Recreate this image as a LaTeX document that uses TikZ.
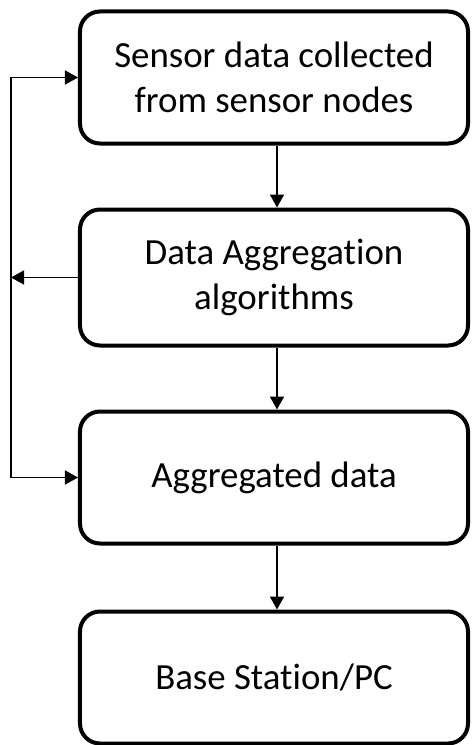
\documentclass[tikz,border=0pt]{standalone}
\usepackage{fontspec}
\setmainfont{Carlito}[Ligatures=NoCommon]
\usetikzlibrary{arrows.meta}
\usetikzlibrary{math}
\usetikzlibrary{positioning}

\tikzset{
  stage/.style={rectangle,draw=black,line width=4bp,rounded corners=20bp,
    minimum width=388bp,minimum height=132bp,align=center,
    font=\fontsize{37}{45}\selectfont},
  flow/.style={-{Triangle[length=13bp,width=14bp]},line width=2bp},
  loopback/.style={-{Triangle[length=13bp,width=14bp]},line width=1.6bp}
}

\begin{document}
\begin{tikzpicture}[x=1bp,y=-1bp]
    \useasboundingbox (0,0) rectangle (472,745);
    \tikzmath{  \yd = 200 ;
                \xc = 274 ;
                \xf = 11 ;
                \ya = 77.5 ;
                \yb = \ya + \yd ;
                \yc = \yb + \yd ;
                \ye = \yc + \yd ;
                }
    \node[stage] (sensor) at (\xc,\ya) {Sensor data collected\\from sensor nodes};
    \node[stage,minimum height=136bp] (algo) at (\xc,\yb) {Data Aggregation\\algorithms};
    \node[stage] (aggdata) at (\xc,\yc) {Aggregated data};
    \node[stage] (base) at (\xc,\ye) {Base Station/PC};

    \coordinate (fbtop) at (\xf,\ya);
    \coordinate (fbmid) at (\xf,\yb);
    \coordinate (fbbot) at (\xf,\yc);

    \draw[flow] ([xshift=3bp]sensor.south) -- ([xshift=3bp]algo.north);
    \draw[flow] ([xshift=3bp]algo.south) -- ([xshift=3bp]aggdata.north);
    \draw[flow] ([xshift=3bp]aggdata.south) -- ([xshift=3bp]base.north);

    \draw[loopback] (fbbot) |- (sensor.west);
    \draw[loopback] (fbtop) |- (aggdata.west);
    \draw[loopback] (algo.west) -- (fbmid);
\end{tikzpicture}
\end{document}
